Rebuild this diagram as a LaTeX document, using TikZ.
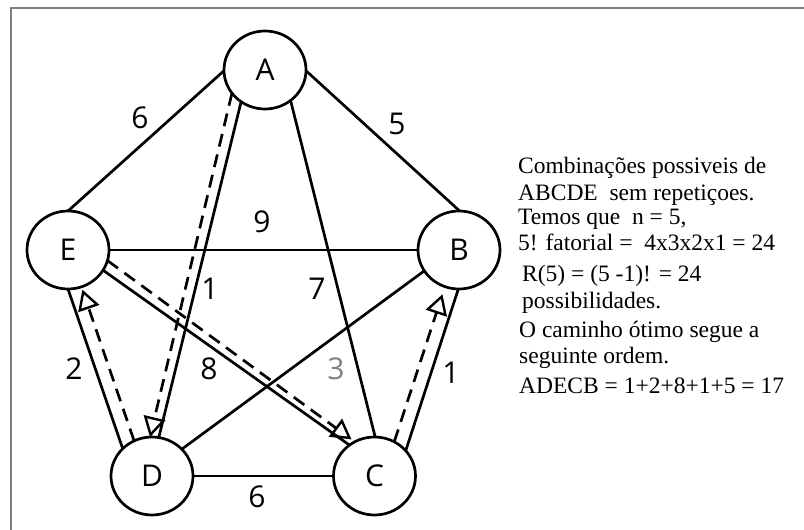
\documentclass[tikz,border=0pt]{standalone}
\usepackage{fontspec}
\usetikzlibrary{shapes.geometric,arrows.meta}
\newfontfamily\labelfont{Open Sans}
\newfontfamily\notefont{Liberation Serif}
\begin{document}
\begin{tikzpicture}[x=1pt,y=-1pt,
  vertex/.style={ellipse,draw,line width=2.7pt,minimum width=82pt,minimum height=78pt,
    inner sep=0pt,outer sep=0pt,font=\labelfont\fontsize{30}{30}\selectfont},
  edge/.style={line width=2.7pt},
  route/.style={line width=2.7pt,dash pattern=on 13pt off 8pt,
    -{Triangle[open,length=20pt,width=22pt,line width=2.4pt]}},
  weight/.style={font=\labelfont\fontsize{30}{30}\selectfont,inner sep=0pt},
  note/.style={anchor=base west,inner sep=0pt,font=\notefont\fontsize{23.5}{23.5}\selectfont}]
\useasboundingbox (0,0) rectangle (804,530);
% outer frame, running off the right and bottom edges
\begin{scope}
  \clip (0,0) rectangle (804,530);
  \draw[line width=2.5pt,draw=gray] (11,8) rectangle (830,560);
\end{scope}

% vertices
\node[vertex] (A) at (265,70) {A};
\node[vertex] (E) at (68,250) {E};
\node[vertex] (B) at (459,250) {B};
\node[vertex] (D) at (152,476) {D};
\node[vertex] (C) at (374.5,476) {C};

% edges of the complete graph
\draw[edge] (A.181) -- (E.90);
\draw[edge] (A.359) -- (B.89);
\draw[edge] (E.0) -- (B.180);
\draw[edge] (A.233) -- (D.80);
\draw[edge] (A.310) -- (C.89);
\draw[edge] (E.270) -- (D.137);
\draw[edge] (E.330) -- (C.129);
\draw[edge] (B.211) -- (D.42);
\draw[edge] (C.39) -- (B.269);
\draw[edge] (D.0) -- (C.180);

% optimal route A-D-E-C-B
\draw[route] (A.215) -- (D.93);
\draw[route,shorten >=3pt] (D.117) -- (E.290);
\draw[route,shorten >=4pt] (E.345) -- (C.120);
\draw[route,shorten >=8pt] (C.60) -- (B.249);

% weights
\node[weight] (wAE) at (140,118) {6};
\node[weight] (wAB) at (397,124) {5};
\node[weight] (wEB) at (262,222) {9};
\node[weight] (wAD) at (210,289) {1};
\node[weight] (wAC) at (317,289) {7};
\node[weight] (wED) at (74,369) {2};
\node[weight] (wEC) at (209,369) {8};
\node[weight,text=gray] (wBD) at (336,369) {3};
\node[weight] (wCB) at (451,373) {1};
\node[weight] (wDC) at (257,497) {6};

% explanation
\node[note] (t1) at (518,173) {Combinações possiveis de};
\node[note] (t2) at (518,200) {ABCDE\ \ sem repetiçoes.};
\node[note] (t3) at (518,224) {Temos que\ \ n = 5,};
\node[note] (t4) at (518,250) {5! fatorial =\ \ 4x3x2x1 = 24};
\node[note] (t5) at (522,281) {R(5) = (5 -1)! = 24};
\node[note] (t6) at (522,308) {possibilidades.};
\node[note] (t7) at (519,337) {O caminho ótimo segue a};
\node[note] (t8) at (519,363) {seguinte ordem.};
\node[note] (t9) at (519,393) {ADECB = 1+2+8+1+5 = 17};
\end{tikzpicture}
\end{document}
